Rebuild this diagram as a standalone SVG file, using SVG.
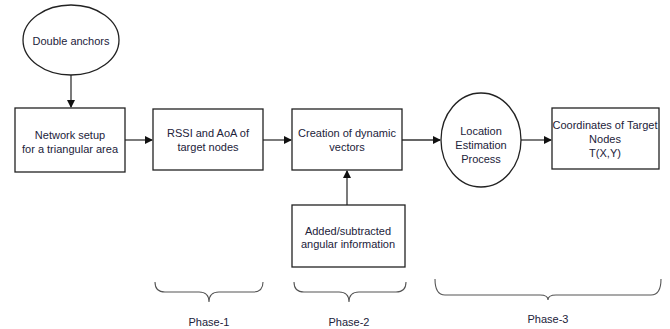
<svg xmlns="http://www.w3.org/2000/svg" width="670" height="329" viewBox="0 0 670 329">
<defs>
<marker id="ah" markerWidth="8" markerHeight="8" refX="7" refY="4" orient="auto" markerUnits="userSpaceOnUse">
<path d="M0,0 L8,4 L0,8 Z" fill="#111"/>
</marker>
<style>
.n{fill:#fff;stroke:#222;stroke-width:1.3}
.t{font-family:"Liberation Sans",Arial,sans-serif;font-size:11px;fill:#22223a;text-anchor:middle}
.c{stroke:#333;stroke-width:1.3;fill:none;marker-end:url(#ah)}
.b{stroke:#555;stroke-width:1.1;fill:none}
</style>
</defs>
<rect width="670" height="329" fill="#fff"/>
<g id="connectors">
<line class="c" x1="71" y1="74" x2="71" y2="107"/>
<line class="c" x1="125" y1="140" x2="152" y2="140"/>
<line class="c" x1="263" y1="140" x2="291" y2="140"/>
<line class="c" x1="402" y1="140" x2="440" y2="140"/>
<line class="c" x1="521" y1="140" x2="551" y2="140"/>
<line class="c" x1="347" y1="205" x2="347" y2="171"/>
</g>
<g id="double-anchors">
<ellipse class="n" cx="71" cy="40" rx="48" ry="35"/>
<text class="t" x="71" y="45">Double anchors</text>
</g>
<g id="network-setup">
<rect class="n" x="15" y="108" width="110" height="64"/>
<text class="t" x="70" y="139">Network setup</text>
<text class="t" x="70" y="153">for a triangular area</text>
</g>
<g id="rssi-aoa">
<rect class="n" x="153" y="109" width="110" height="61"/>
<text class="t" x="208" y="137">RSSI and AoA of</text>
<text class="t" x="208" y="151">target nodes</text>
</g>
<g id="dynamic-vectors">
<rect class="n" x="292" y="109" width="110" height="61"/>
<text class="t" x="347" y="137">Creation of dynamic</text>
<text class="t" x="347" y="151">vectors</text>
</g>
<g id="location-estimation">
<ellipse class="n" cx="481" cy="140" rx="40" ry="47"/>
<text class="t" x="481" y="135">Location</text>
<text class="t" x="481" y="149">Estimation</text>
<text class="t" x="481" y="163">Process</text>
</g>
<g id="coordinates">
<rect class="n" x="552" y="108" width="107" height="61"/>
<text class="t" x="605" y="129">Coordinates of Target</text>
<text class="t" x="605" y="143">Nodes</text>
<text class="t" x="605" y="157">T(X,Y)</text>
</g>
<g id="angular-info">
<rect class="n" x="292" y="205" width="113" height="62"/>
<text class="t" x="348" y="235">Added/subtracted</text>
<text class="t" x="348" y="248">angular information</text>
</g>
<g id="phase-1">
<path class="b" d="M155,282 Q155,292 165,292 L199,292 Q209,292 209,302 Q209,292 219,292 L253,292 Q263,292 263,282"/>
<text class="t" x="209" y="326">Phase-1</text>
</g>
<g id="phase-2">
<path class="b" d="M294,282 Q294,292 304,292 L339,292 Q349,292 349,302 Q349,292 359,292 L396,292 Q406,292 406,282"/>
<text class="t" x="349" y="326">Phase-2</text>
</g>
<g id="phase-3">
<path class="b" d="M435,279 Q435,295 445,295 L540,295 Q548,295 548,300 Q548,295 556,295 L651,295 Q661,295 661,279"/>
<text class="t" x="548" y="323">Phase-3</text>
</g>
</svg>
